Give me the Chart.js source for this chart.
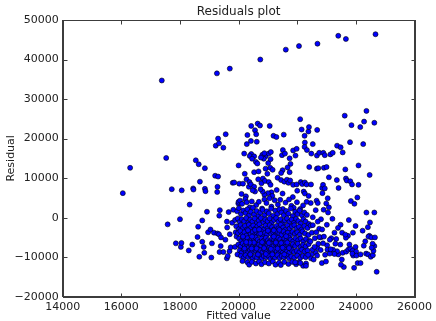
<!DOCTYPE html>
<html><head><meta charset="utf-8">
<script src="https://cdn.jsdelivr.net/npm/chart.js@4"></script>
<style>html,body{margin:0;padding:0;background:#fff}#wrap{position:relative;width:436px;height:321px}canvas{display:block}#frame{position:absolute;box-sizing:border-box;border:1px solid #3c3c3c;pointer-events:none}</style>
</head><body>
<div id="wrap"><canvas id="c" width="436" height="321"></canvas><div id="frame"></div></div>
<script>
const xTicks = [14000,16000,18000,20000,22000,24000,26000];
const yTicks = [-20000,-10000,0,10000,20000,30000,40000,50000];

const outliers = [[17380,34700],[19260,36500],[19700,37700],[20740,40000],[21610,42500],[22060,43400],[22690,44000],[23400,46000],[23660,45200],[24670,46400]];

const leftSparse = [[16050,6200],[16300,12600],[17530,15100],[17580,-1700],[17720,7200],[18060,6900],[18000,-400],[17860,-6500],[18030,-7400],[18050,-6400],[18330,3300],[18300,-8300],[18420,-6800],[18450,7400],[18460,7100],[18540,14500],[18640,13500],[18850,12500],[18680,9100],[18620,-2300],[18600,-4900],[18660,-9900],[18760,-6100],[18760,-700],[18850,7300],[18870,6700],[18920,1500],[18830,-8900],[18810,-7400],[18960,-3700],[19040,-3000],[19070,-10100],[19090,-6500],[19160,-3800],[19280,-4000],[19200,10600],[19300,10400],[19280,7800],[19270,6500],[19220,18200],[19300,20000],[19330,18800],[19480,17700],[19560,21100],[19360,1900],[19340,500],[19330,-4200],[19400,-5000],[19390,-7200],[19350,-8700],[19480,-8700],[19550,-5600],[19610,-2500],[19600,-1000],[19600,-10300],[19630,-9700],[19660,1400],[19700,-4200],[19690,-8500],[19730,-7500],[19780,-1300],[19800,8800],[19820,2000],[19900,-3700],[19880,-7400],[19960,-9300],[19930,-4800],[19990,3600],[20000,4000]];

const upperBand = [[19850,8900],[20000,13200],[20190,16200],[20300,20900],[20280,18600],[20420,19400],[20430,23200],[20650,23800],[20730,23300],[20560,22100],[20600,21100],[20620,19200],[20430,16100],[20380,15600],[20530,15500],[20590,14100],[20640,13700],[20460,14900],[20530,11500],[20680,11700],[21060,23200],[21190,20700],[21290,20400],[21540,21000],[21480,15800],[21510,17100],[21580,16200],[21740,15000],[21770,13600],[21670,12700],[21740,11500],[21500,12000],[21450,11300],[21940,15700],[21860,17000],[21980,17400],[22100,24900],[22150,22300],[22250,20700],[22260,19000],[22250,17900],[22330,17100],[22380,21800],[22400,22900],[22480,16200],[22530,18600],[22680,22200],[22670,15700],[22750,16400],[22890,16400],[22940,15800],[22670,12400],[22720,12500],[22910,12600],[23000,12800],[22410,12800],[23080,10200],[23130,16000],[23210,16400],[23360,18200],[23480,17800],[23550,16500],[23620,25800],[23640,12200],[23800,19100],[23850,23400],[24090,13200],[24150,22900],[24280,24300],[24360,27000],[24250,18600],[24630,24000],[24470,10800],[20920,15500],[20860,14900],[21030,16200],[21100,16600],[21010,13800],[20810,15900],[21090,14800],[20920,12400],[21080,12600],[21160,12100],[20210,11100],[20760,15200],[20880,16300]];

const midBand = [[20020,8600],[20150,8600],[20270,9700],[20370,9000],[20350,7800],[20420,8400],[20530,7800],[20560,6600],[20670,9700],[20780,8700],[20830,9900],[20900,9300],[20980,11100],[21030,9000],[21090,8300],[21120,6400],[21000,6200],[21150,5500],[20880,5800],[20820,6600],[20750,7200],[21330,10100],[21450,9500],[21560,9100],[21650,9600],[21700,8800],[21760,9400],[21860,8300],[21980,8400],[22120,9000],[22170,8500],[22260,8900],[22320,8400],[22220,6600],[22260,6100],[22390,5500],[22460,3700],[22320,4000],[22470,8400],[22660,4300],[22700,3700],[22850,7500],[22880,8300],[22940,7400],[22860,6200],[23040,4900],[22990,3600],[23080,2600],[23050,1300],[23350,9500],[23410,7500],[23660,9900],[23690,9400],[23810,9200],[23870,8400],[23830,4200],[23950,3500],[24050,5100],[24090,8300],[24360,1300],[24630,1300],[20100,6000],[20250,5400],[20480,6900],[21300,7000],[21500,6100],[21850,5200],[22000,6800]];

const core = [
[20050,4300],[20120,3500],[20230,4700],[20280,3900],[20380,2600],[20450,4100],[20600,3200],[20690,4000],[20800,2300],[20880,4600],[20950,3700],[21050,4900],[21120,2800],[21230,4400],[21340,3300],[21420,4500],[21510,2200],[21600,3800],[21720,4600],[21800,3000],[21880,2500],[21990,3900],[22100,2200],[22200,3100],
[19950,1600],[20010,2400],[20080,900],[20160,1800],[20240,1200],[20300,2100],[20360,600],[20420,1500],[20490,2500],[20530,800],[20610,1700],[20680,400],[20740,1300],[20820,2000],[20890,700],[20960,1600],[21030,1100],[21110,2300],[21180,500],[21250,1800],[21320,900],[21390,2100],[21460,1300],[21540,600],[21620,1700],[21700,1000],[21780,2300],[21850,400],[21930,1500],[22010,900],[22080,1800],[22160,600],[22240,1300],[22330,700],
[19880,-600],[19970,-200],[20040,-1100],[20110,-400],[20190,-900],[20260,-100],[20330,-1300],[20400,-500],[20470,-1000],[20550,-200],[20620,-1400],[20690,-700],[20760,-100],[20840,-1200],[20910,-500],[20990,-900],[21060,-200],[21130,-1300],[21210,-600],[21280,-100],[21360,-1000],[21430,-400],[21510,-1400],[21580,-700],[21650,-200],[21730,-1100],[21810,-500],[21890,-1300],[21960,-300],[22040,-900],[22120,-1500],[22210,-400],[22290,-1000],[22400,-1600],
[19920,-2200],[20010,-2900],[20070,-1900],[20150,-2600],[20220,-2100],[20290,-3000],[20350,-1800],[20430,-2500],[20500,-2000],[20570,-2800],[20640,-2200],[20710,-1700],[20780,-2600],[20850,-3100],[20920,-2000],[20990,-2700],[21060,-1900],[21140,-2400],[21210,-3000],[21290,-2100],[21360,-2700],[21440,-1800],[21520,-2500],[21590,-3100],[21670,-2000],[21740,-2800],[21820,-2200],[21900,-1900],[21980,-2700],[22060,-2300],[22150,-3000],[22240,-2100],[22350,-2600],[22460,-2000],
[19980,-3900],[20060,-3400],[20130,-4300],[20200,-3700],[20270,-4500],[20340,-3500],[20410,-4100],[20480,-3600],[20550,-4400],[20620,-3800],[20690,-4200],[20760,-3400],[20830,-4600],[20900,-3900],[20970,-4300],[21040,-3500],[21110,-4100],[21180,-3700],[21250,-4500],[21320,-3600],[21390,-4000],[21460,-4400],[21530,-3500],[21600,-4200],[21680,-3800],[21760,-4500],[21840,-3600],[21920,-4100],[22000,-3700],[22090,-4300],[22180,-3500],[22270,-4000],[22380,-4400],[22500,-3800],
[20020,-5300],[20090,-5900],[20160,-5100],[20230,-5700],[20300,-5200],[20370,-6000],[20440,-5400],[20510,-5800],[20580,-5000],[20650,-5600],[20720,-6100],[20790,-5300],[20860,-5800],[20930,-5100],[21000,-5700],[21070,-6000],[21140,-5200],[21210,-5600],[21280,-5900],[21350,-5100],[21420,-5500],[21490,-6100],[21560,-5300],[21630,-5800],[21700,-5000],[21780,-5600],[21860,-6000],[21940,-5200],[22030,-5700],[22120,-5300],[22210,-6000],[22300,-5400],[22410,-5900],
[19990,-6800],[20070,-7300],[20140,-6500],[20210,-7100],[20280,-6700],[20350,-7500],[20420,-6900],[20490,-7200],[20560,-6600],[20630,-7400],[20700,-6800],[20770,-7100],[20840,-6500],[20910,-7300],[20980,-6900],[21050,-7500],[21120,-6700],[21190,-7200],[21260,-6600],[21330,-7400],[21400,-6800],[21470,-7100],[21540,-6500],[21610,-7300],[21690,-6900],[21770,-7500],[21850,-6700],[21930,-7200],[22020,-6600],[22110,-7400],[22200,-6900],[22290,-7300],[22390,-6700],
[20040,-8300],[20110,-8800],[20180,-8100],[20250,-8600],[20320,-8900],[20390,-8200],[20460,-8700],[20530,-8000],[20600,-8500],[20670,-9000],[20740,-8300],[20810,-8800],[20880,-8100],[20950,-8600],[21020,-8900],[21090,-8200],[21160,-8700],[21230,-8000],[21300,-8500],[21370,-9000],[21440,-8300],[21510,-8800],[21580,-8100],[21650,-8600],[21730,-8900],[21810,-8200],[21890,-8700],[21980,-8400],[22070,-8800],[22160,-8100],[22250,-8600],[22350,-8300],
[20080,-9700],[20170,-10200],[20240,-9500],[20330,-10000],[20410,-9600],[20480,-10400],[20560,-9800],[20630,-10100],[20710,-9500],[20790,-10300],[20860,-9700],[20940,-10000],[21010,-9600],[21090,-10400],[21170,-9800],[21240,-10100],[21320,-9500],[21400,-10200],[21470,-9700],[21550,-10000],[21640,-9600],[21720,-10300],[21800,-9800],[21900,-10100],[22000,-9600],[22100,-10200],[22190,-9700],[22290,-10000],
[20130,-11000],[20300,-11300],[20360,-11900],[20450,-11200],[20590,-11600],[20700,-11100],[20780,-11800],[20900,-11300],[21030,-11600],[21170,-11100],[21260,-11900],[21380,-11400],[21440,-12000],[21560,-11200],[21700,-11700],[21830,-11200],[21960,-11800],[22060,-11300],[22200,-12200],[22300,-11600],
[20320,-3200],[20460,-4800],[20520,-6300],[20610,-7800],[20660,-9300],[20740,-4000],[20800,-6200],[20870,-7700],[20930,-9200],[21000,-3300],[21030,-6400],[21100,-7900],[21150,-9300],[21200,-4800],[21270,-6300],[21330,-7800],[21390,-3100],[21450,-6400],[21500,-7600],[21560,-9300],[21620,-4700],[20380,-6300],[20440,-7800],[20400,-9300],[20560,-3100],[20700,-3000],[21200,-3200],[21660,-6300],[21720,-7700],[20260,-6200],[20200,-7800],[20150,-4800]
];

const rightLower = [[24710,-13700],[23940,-12700],[23590,-12500],[23490,-11900],[24060,-11500],[24160,-11500],[23520,-10600],[23400,-9300],[23360,-8500],[23550,-8900],[23670,-8600],[23740,-8100],[23810,-7800],[23890,-8400],[23990,-7400],[24010,-8600],[23910,-9600],[23880,-9100],[24270,-7100],[24350,-9100],[24420,-9300],[24510,-9900],[24580,-9500],[24600,-8400],[24630,-7200],[24570,-6600],[24460,-4600],[24430,-4800],[24530,-5000],[24650,-5000],[24410,-2400],[24480,-1200],[24230,-3300],[23990,-2100],[23760,-600],[23730,-4600],[23660,-5100],[23530,-3800],[23480,-1800],[23390,-2600],[23270,-3800],[23330,-5400],[23160,-5200],[23110,-5600],[23020,-7000],[23030,-8100],[23220,-8100],[23270,-9200],[23110,-9100],[22950,-9400],[22840,-11500],[22980,-11100],[23140,-8000],[22880,-6500],[22800,-5000],[22750,-4900],[22910,-4800],[22750,-2800],[23010,-1800],[22810,-400],[22900,2000],[22630,1900],[22530,100],[22690,-7700],[22630,-8900],[22490,-9300],[22470,-10300],[22370,-9400],[22300,-12200],[22110,-11500],[21930,-11300],[22450,-6000],[22520,-8100],[22600,-5200],[22680,-9600],[22720,-6600],[22560,-10600],[22800,-8200],[22850,-3000],[22650,-3700],[22530,-1900],[22700,-1000],[22590,-7400],[23640,-4300],[23780,-6800],[24020,-9600],[23900,-3800],[24160,-9300],[24320,-6000],[24540,-7600],[23470,-6800],[23200,-300],[23300,-6600]];

const allPoints = [].concat(outliers, leftSparse, upperBand, midBand, core, rightLower).map(p => ({x: p[0], y: p[1]}));

const minus = v => String(v).replace('-', '\u2212');
const FONT = '"DejaVu Sans", sans-serif';
const EDGE = '#3c3c3c';

const framePlugin = {
  id: 'frame',
  afterDraw(chart) {
    const ctx = chart.ctx;
    const a = chart.chartArea;
    const sx = chart.scales.x, sy = chart.scales.y;
    const L = Math.round(a.left) + 0.5, R = Math.round(a.right) + 0.5, T = Math.round(a.top) + 0.5, B = Math.round(a.bottom) + 0.5;
    ctx.save();
    ctx.strokeStyle = EDGE;
    ctx.lineWidth = 1;
    ctx.strokeRect(L, T, R - L, B - T);
    ctx.beginPath();
    for (const v of xTicks) {
      const px = Math.round(sx.getPixelForValue(v)) + 0.5;
      ctx.moveTo(px, B); ctx.lineTo(px, B - 4);
      ctx.moveTo(px, T); ctx.lineTo(px, T + 4);
    }
    for (const v of yTicks) {
      const py = Math.round(sy.getPixelForValue(v)) + 0.5;
      ctx.moveTo(L, py); ctx.lineTo(L + 4, py);
      ctx.moveTo(R, py); ctx.lineTo(R - 4, py);
    }
    ctx.stroke();
    ctx.fillStyle = '#222';
    ctx.textAlign = 'center';
    ctx.textBaseline = 'middle';
    ctx.font = '12px ' + FONT;
    ctx.fillText('Residuals plot', (a.left + a.right) / 2, 12);
    ctx.font = '11px ' + FONT;
    ctx.fillText('Fitted value', (a.left + a.right) / 2, 316);
    ctx.translate(11.5, (a.top + a.bottom) / 2);
    ctx.rotate(-Math.PI / 2);
    ctx.fillText('Residual', 0, 0);
    ctx.restore();
  }
};

const chart = new Chart(document.getElementById('c'), {
  type: 'scatter',
  data: { datasets: [{ data: allPoints, pointRadius: 2.5, backgroundColor: '#0000ff', borderColor: '#000', borderWidth: 0.6 }] },
  options: {
    responsive: false, animation: false,
    layout: { padding: { left: 0, right: 16.7, top: 20, bottom: 0 } },
    plugins: { legend: { display: false }, tooltip: { enabled: false } },
    scales: {
      x: {
        type: 'linear', position: 'bottom', min: 14000, max: 26000,
        afterBuildTicks: s => { s.ticks = xTicks.map(v => ({ value: v })); },
        afterFit: s => { s.height = 24.3; },
        grid: { display: false, drawTicks: false }, border: { display: true, color: EDGE, width: 1 },
        ticks: { padding: 4, color: '#222', font: { family: FONT, size: 11 }, callback: minus, maxRotation: 0, autoSkip: false }
      },
      y: {
        type: 'linear', position: 'left', min: -20000, max: 50000,
        afterBuildTicks: s => { s.ticks = yTicks.map(v => ({ value: v })); },
        afterFit: s => { s.width = 62.7; },
        grid: { display: false, drawTicks: false }, border: { display: true, color: EDGE, width: 1 },
        ticks: { padding: 4, color: '#222', font: { family: FONT, size: 11 }, callback: minus, autoSkip: false }
      },
      x2: {
        type: 'linear', position: 'top', min: 14000, max: 26000,
        afterFit: s => { s.height = 0; },
        grid: { display: false, drawTicks: false }, border: { display: true, color: EDGE, width: 1 },
        ticks: { display: false }
      },
      y2: {
        type: 'linear', position: 'right', min: -20000, max: 50000,
        afterFit: s => { s.width = 0; },
        grid: { display: false, drawTicks: false }, border: { display: true, color: EDGE, width: 1 },
        ticks: { display: false }
      }
    }
  },
  plugins: [framePlugin]
});

const a = chart.chartArea;
const fr = document.getElementById('frame');
fr.style.left = Math.round(a.left) + 'px';
fr.style.top = Math.round(a.top) + 'px';
fr.style.width = (Math.round(a.right) - Math.round(a.left) + 1) + 'px';
fr.style.height = (Math.round(a.bottom) - Math.round(a.top) + 1) + 'px';
</script>
</body></html>
